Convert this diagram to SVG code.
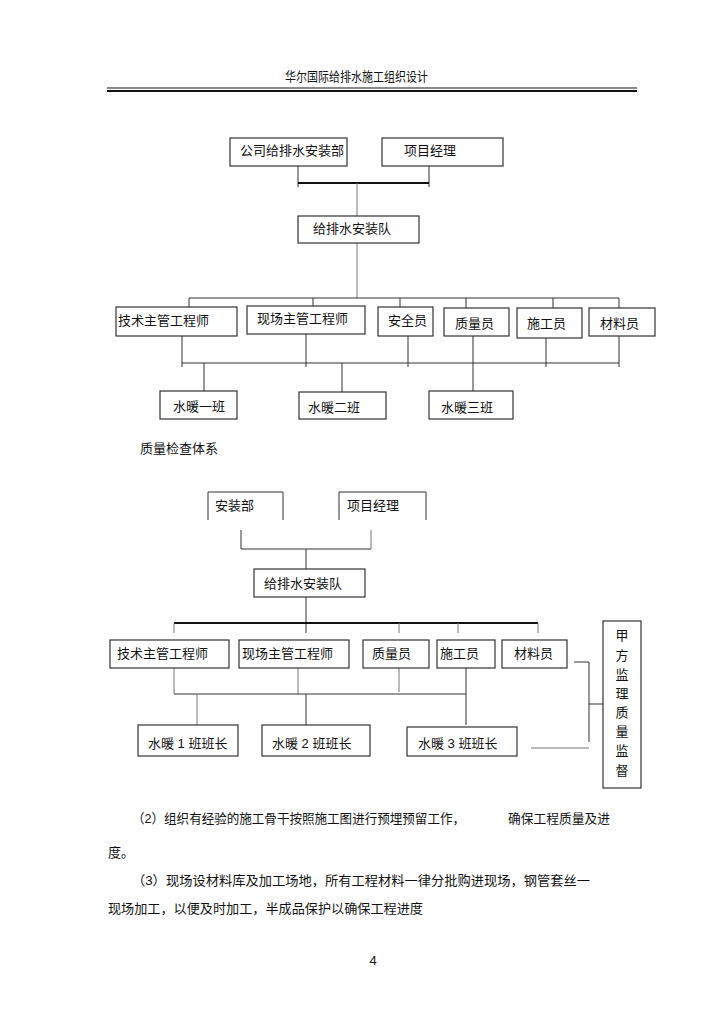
<svg xmlns="http://www.w3.org/2000/svg" width="724" height="1024" viewBox="0 0 724 1024">
<style>
text{font-family:"Liberation Sans","Noto Sans CJK SC",sans-serif;font-size:13px;fill:#111}
.box{fill:#fff;stroke:#333;stroke-width:1.2}
.ln{stroke:#333;stroke-width:1;fill:none}
.gl{stroke:#777;stroke-width:1;fill:none}
.tk{stroke:#111;stroke-width:2;fill:none}
</style>
<rect width="724" height="1024" fill="#fff"/>
<g id="header">
<text x="285" y="81" font-size="11" textLength="143" lengthAdjust="spacingAndGlyphs">华尔国际给排水施工组织设计</text>
<line x1="107" y1="88" x2="637" y2="88" stroke="#111" stroke-width="1"/>
<line x1="107" y1="91" x2="637" y2="91" stroke="#111" stroke-width="2"/>
</g>
<g id="connectors">
<path class="ln" d="M298 166V187M429 166V187"/>
<path class="tk" d="M298 183H429"/>
<path class="gl" d="M357 183V216M357 243V298"/>
<path class="ln" d="M189 298H619M189 298V307M313 298V306M400 298V307M466 298V308M553 298V308M619 298V308"/>
<path class="ln" d="M182 336V367M306 334V367M408 336V367M546 338V367M619 336V367M182 363H619"/>
<path class="ln" d="M204 363V391M342 363V392M473 336V391"/>
<path class="ln" d="M241 530V549H371"/>
<path class="gl" d="M371 530V549"/>
<path class="ln" d="M306 549V569"/>
<path class="ln" d="M306 597V633"/>
<path class="tk" d="M174 623H538"/>
<path class="gl" d="M174 623V633M399 623V633M458 623V633M538 623V633"/>
<path class="gl" d="M174 668V694M298 668V694M399 668V692"/>
<path class="ln" d="M466 668V725M174 694H466"/>
<path class="gl" d="M197 694V725"/>
<path class="ln" d="M306 694V725"/>
<path class="ln" d="M574 662H589V742M589 704H603"/>
<path class="gl" d="M531 748H589"/>
</g>
<g id="n_gs"><rect class="box" x="230" y="138" width="117" height="28"/><text x="240" y="155">公司给排水安装部</text></g>
<g id="n_xmjl"><rect class="box" x="382" y="138" width="121" height="28"/><text x="404" y="155">项目经理</text></g>
<g id="n_azd"><rect class="box" x="298" y="216" width="121" height="27"/><text x="313" y="233">给排水安装队</text></g>
<g id="n_js"><rect class="box" x="116" y="307" width="121" height="29"/><text x="118" y="325">技术主管工程师</text></g>
<g id="n_xc"><rect class="box" x="247" y="306" width="118" height="28"/><text x="257" y="323">现场主管工程师</text></g>
<g id="n_aq"><rect class="box" x="378" y="307" width="55" height="29"/><text x="388" y="325">安全员</text></g>
<g id="n_zl"><rect class="box" x="444" y="308" width="65" height="28"/><text x="455" y="328">质量员</text></g>
<g id="n_sg"><rect class="box" x="517" y="308" width="65" height="30"/><text x="527" y="328">施工员</text></g>
<g id="n_cl"><rect class="box" x="589" y="308" width="66" height="28"/><text x="600" y="328">材料员</text></g>
<g id="n_b1"><rect class="box" x="160" y="391" width="77" height="28"/><text x="173" y="411">水暖一班</text></g>
<g id="n_b2"><rect class="box" x="299" y="392" width="87" height="27"/><text x="308" y="412">水暖二班</text></g>
<g id="n_b3"><rect class="box" x="429" y="391" width="84" height="28"/><text x="441" y="412">水暖三班</text></g>
<g id="title2"><text x="140" y="453">质量检查体系</text></g>
<g id="m_az"><path class="ln" d="M208 520V492H283V520"/><text x="215" y="510">安装部</text></g>
<g id="m_xmjl"><path class="ln" d="M339 520V492H426V520"/><text x="347" y="510">项目经理</text></g>
<g id="m_azd"><rect class="box" x="254" y="569" width="111" height="28"/><text x="264" y="588">给排水安装队</text></g>
<g id="m_js"><rect class="box" x="110" y="640" width="119" height="28"/><text x="117" y="658">技术主管工程师</text></g>
<g id="m_xc"><rect class="box" x="239" y="640" width="110" height="28"/><text x="242" y="658">现场主管工程师</text></g>
<g id="m_zl"><rect class="box" x="363" y="640" width="66" height="28"/><text x="372" y="658">质量员</text></g>
<g id="m_sg"><rect class="box" x="437" y="640" width="58" height="28"/><text x="440" y="658">施工员</text></g>
<g id="m_cl"><rect class="box" x="502" y="640" width="65" height="28"/><text x="514" y="658">材料员</text></g>
<g id="m_b1"><rect class="box" x="138" y="725" width="100" height="31"/><text x="148" y="748">水暖 1 班班长</text></g>
<g id="m_b2"><rect class="box" x="262" y="725" width="108" height="31"/><text x="272" y="748">水暖 2 班班长</text></g>
<g id="m_b3"><rect class="box" x="407" y="727" width="110" height="29"/><text x="418" y="748">水暖 3 班班长</text></g>
<g id="m_jf"><rect class="box" x="603" y="621" width="38" height="167"/>
<g text-anchor="middle">
<text x="622" y="640">甲</text><text x="622" y="660">方</text><text x="622" y="679">监</text><text x="622" y="698">理</text><text x="622" y="717">质</text><text x="622" y="736">量</text><text x="622" y="755">监</text><text x="622" y="775">督</text>
</g></g>
<g id="body">
<text x="132" y="823" textLength="333" lengthAdjust="spacingAndGlyphs">（2）组织有经验的施工骨干按照施工图进行预埋预留工作，</text>
<text x="508" y="823" textLength="102" lengthAdjust="spacingAndGlyphs">确保工程质量及进</text>
<text x="108" y="857">度。</text>
<text x="132" y="885" textLength="458" lengthAdjust="spacingAndGlyphs">（3）现场设材料库及加工场地，所有工程材料一律分批购进现场，钢管套丝一</text>
<text x="108" y="913" textLength="315" lengthAdjust="spacingAndGlyphs">现场加工，以便及时加工，半成品保护以确保工程进度</text>
<text x="373" y="965" font-size="9" text-anchor="middle">4</text>
</g>
</svg>
